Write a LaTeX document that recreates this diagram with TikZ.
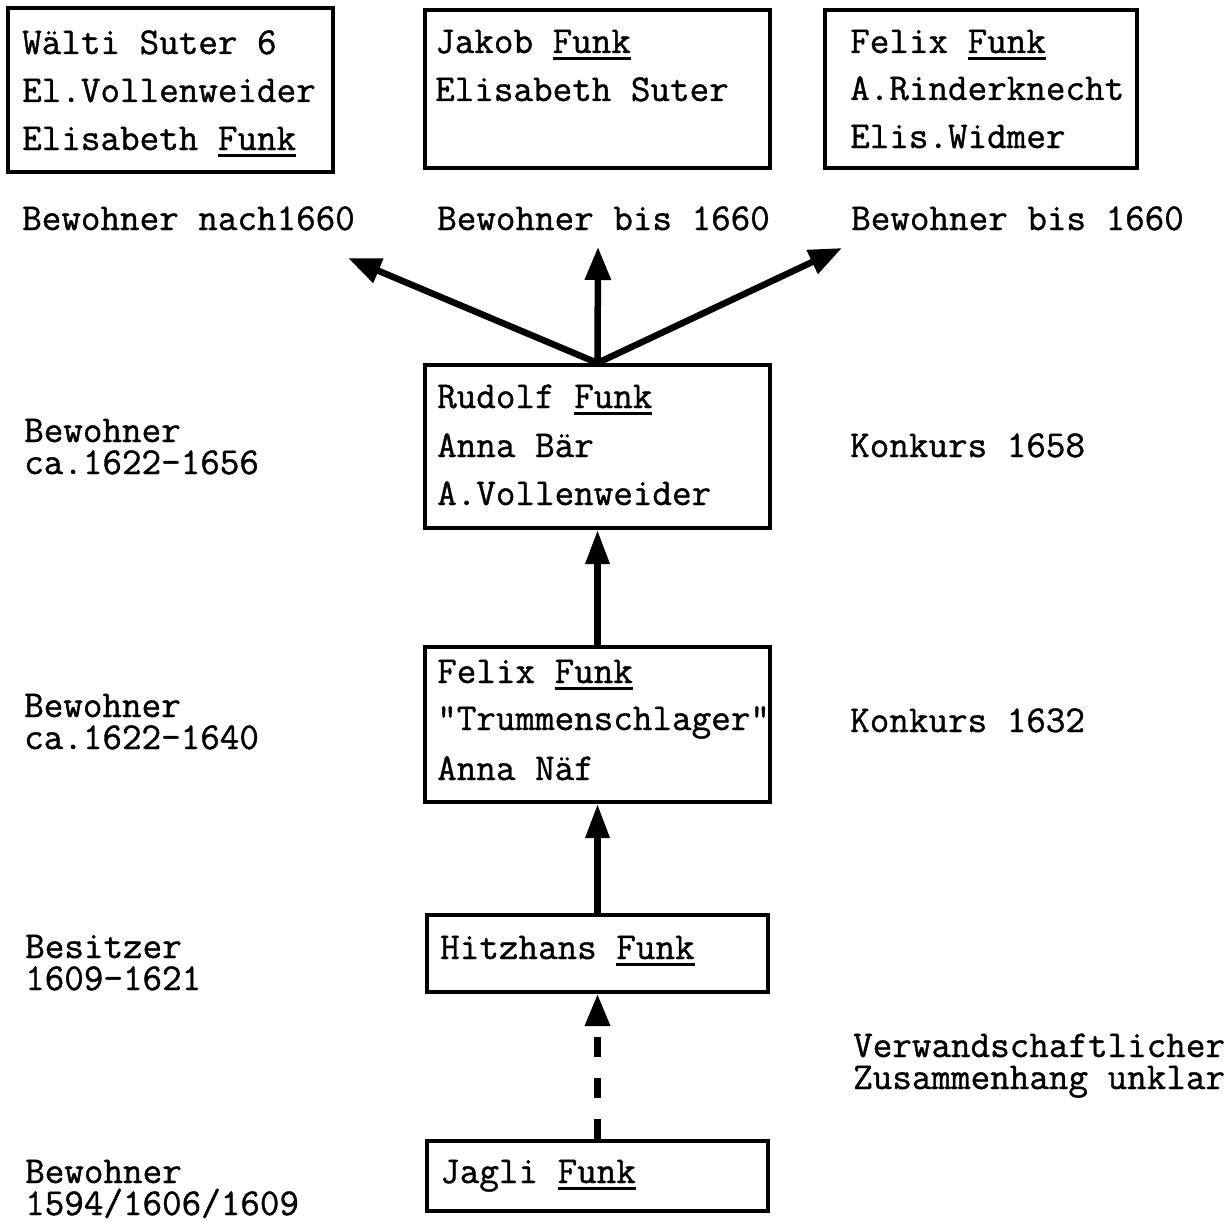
\documentclass[tikz,border=0pt]{standalone}
\usepackage{fontspec}
\setmonofont[FakeBold=1]{Latin Modern Mono}
\usetikzlibrary{arrows.meta}
\newcommand\uln[1]{\setbox0\hbox{#1}\rlap{\rule[-7pt]{\wd0}{3pt}}\box0}
\tikzset{
  box/.style={draw, line width=4pt, rectangle, inner sep=0pt},
  txt/.style={anchor=base west, inner sep=0pt, font=\ttfamily\fontsize{38}{48}\selectfont},
  conn/.style={line width=6.5pt, -{Triangle[length=33pt,width=25pt]}},
}
\begin{document}
\begin{tikzpicture}[x=1pt,y=-1pt]
\useasboundingbox (0,0) rectangle (1228,1220);
\fill[white] (0,0) rectangle (1228,1220);
% boxes
\node[box, minimum width=325pt, minimum height=164pt] (A) at (170.5,90) {};
\node[box, minimum width=345pt, minimum height=158pt] (B) at (597.5,89) {};
\node[box, minimum width=312pt, minimum height=158pt] (C) at (981,89) {};
\node[box, minimum width=345pt, minimum height=163pt] (R) at (597.5,446.5) {};
\node[box, minimum width=345pt, minimum height=155pt] (F) at (597.5,724.5) {};
\node[box, minimum width=341pt, minimum height=77pt] (H) at (597.5,953.5) {};
\node[box, minimum width=341pt, minimum height=70pt] (J) at (597.5,1176) {};
% box texts
\node[txt] (a1) at (22,54) {Wälti Suter 6};
\node[txt] (a2) at (22,102) {El.Vollenweider};
\node[txt] (a3) at (22,150) {Elisabeth \uln{Funk}};
\node[txt] (b1) at (435,53) {Jakob \uln{Funk}};
\node[txt] (b2) at (435,101) {Elisabeth Suter};
\node[txt] (c1) at (850,53) {Felix \uln{Funk}};
\node[txt] (c2) at (850,100) {A.Rinderknecht};
\node[txt] (c3) at (850,148) {Elis.Widmer};
\node[txt] (r1) at (437,408) {Rudolf \uln{Funk}};
\node[txt] (r2) at (437,457) {Anna Bär};
\node[txt] (r3) at (437,505) {A.Vollenweider};
\node[txt] (f1) at (437,683) {Felix \uln{Funk}};
\node[txt] (f2) at (437,730) {"Trummenschlager"};
\node[txt] (f3) at (437,780) {Anna Näf};
\node[txt] (h1) at (440,959) {Hitzhans \uln{Funk}};
\node[txt] (j1) at (440,1183) {Jagli \uln{Funk}};
% labels
\node[txt] (l1) at (22,230) {Bewohner nach1660};
\node[txt] (l2) at (437,230) {Bewohner bis 1660};
\node[txt] (l3) at (851,230) {Bewohner bis 1660};
\node[txt] (l4a) at (24,442) {Bewohner};
\node[txt] (l4b) at (24,474) {ca.1622-1656};
\node[txt] (l5) at (850,457) {Konkurs 1658};
\node[txt] (l6a) at (24,717) {Bewohner};
\node[txt] (l6b) at (24,749) {ca.1622-1640};
\node[txt] (l7) at (850,732) {Konkurs 1632};
\node[txt] (l8a) at (25,958) {Besitzer};
\node[txt] (l8b) at (25,990) {1609-1621};
\node[txt] (l9a) at (853,1057) {Verwandschaftlicher};
\node[txt] (l9b) at (853,1089) {Zusammenhang unklar};
\node[txt] (l10a) at (25,1183) {Bewohner};
\node[txt] (l10b) at (25,1215) {1594/1606/1609};
% connectors
\coordinate (tL) at (348,258);
\coordinate (tM) at (598,247);
\coordinate (tR) at (842,248);
\draw[conn] (R.north) -- (tL);
\draw[conn] (R.north) -- (tM);
\draw[conn] (R.north) -- (tR);
\draw[conn, -{Triangle[length=34pt,width=23pt]}] (F.north) -- (R.south);
\draw[conn, -{Triangle[length=34pt,width=23pt]}] (H.north) -- (F.south);
\draw[conn, -{Triangle[length=32pt,width=24pt]}, dash pattern=on 20pt off 21pt] (J.north) -- (H.south);
\end{tikzpicture}
\end{document}
